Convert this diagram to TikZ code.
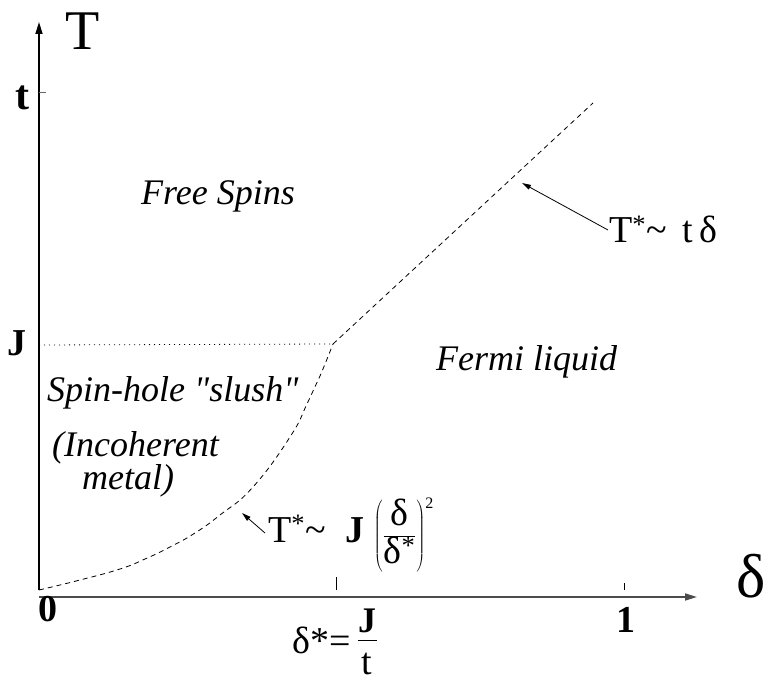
\documentclass[tikz,border=0pt]{standalone}
\usepackage{fontspec}
\setmainfont{Liberation Serif}
\usetikzlibrary{arrows.meta}
\newcommand{\fsz}[1]{\fontsize{#1}{#1}\selectfont}
\begin{document}
\begin{tikzpicture}[x=1pt,y=-1pt,
  axisline/.style={line width=1.6pt,-{Triangle[length=12pt,width=7pt]}},
  tickline/.style={line width=1pt,black!60},
  boundary/.style={line width=0.8pt,dash pattern=on 5pt off 4pt},
  dotline/.style={line width=0.8pt,dash pattern=on 1pt off 4pt},
  pointer/.style={line width=0.8pt,-{Triangle[length=9pt,width=5pt]}},
  region/.style={font=\fsz{36}\itshape,anchor=base west,inner sep=0pt},
  ticklabel/.style={font=\fsz{38}\bfseries,inner sep=0pt},
  formula/.style={font=\fsz{38},anchor=base west,inner sep=0pt}
]
\useasboundingbox (0,0) rectangle (766,679);
% axes
\coordinate (O) at (39,590);
\coordinate (Ytop) at (39,22);
\coordinate (Xl) at (39,597);
\coordinate (Xr) at (697,597);
\draw[axisline,black] (O) -- (Ytop);
\draw[axisline,black!70] (Xl) -- (Xr);
% ticks
\coordinate (tt1) at (39,93); \coordinate (tt2) at (46,93);
\draw[tickline] (tt1) -- (tt2);
\coordinate (dt1) at (336,577); \coordinate (dt2) at (336,590);
\draw[tickline,black] (dt1) -- (dt2);
\coordinate (ot1) at (624,583); \coordinate (ot2) at (624,590);
\draw[tickline,black] (ot1) -- (ot2);
% axis labels
\node[font=\fsz{56},inner sep=0pt] (Tlab) at (83,31) {T};
\node[font=\fsz{62},inner sep=0pt] (dlab) at (751,576) {δ};
\node[ticklabel,font=\fsz{42}\bfseries] (tlab) at (22,98) {t};
\node[ticklabel] (Jlab) at (17,343) {J};
\node[ticklabel] (zlab) at (48,609) {0};
\node[ticklabel] (olab) at (626,620) {1};
% J level
\coordinate (Jl) at (39,345);
\coordinate (Jc) at (333,344);
\draw[dotline] (Jl) -- (Jc);
% boundary
\coordinate (Tend) at (593,103);
\draw[boundary] plot[smooth,tension=0.8] coordinates {(39,590) (80,580) (120,569) (145,559) (170,547) (195,533) (220,515) (253,487) (290,437) (307,404) (320,376) (333,344)};
\draw[boundary] (Jc) -- (Tend);
% regions
\node[region] (free) at (141,205) {Free Spins};
\node[region] (fermi) at (436,370) {Fermi liquid};
\node[region] (slush) at (47,401) {Spin-hole \textquotedbl slush\textquotedbl};
\node[region] (incoh) at (52,456) {(Incoherent};
\node[region] (metal) at (82,489) {metal)};
% formula top right
\node[formula] (ftop) at (609,243) {T\textsuperscript{*}\textasciitilde\hspace{16pt}t\,δ};
\coordinate (atop) at (522,183);
\coordinate (ttop) at (608,230);
\draw[pointer] (ttop) -- (atop);
% formula bottom
\node[formula] (fbot) at (268,542) {T\textsuperscript{*}\textasciitilde\hspace{20pt}\textbf{J}\hspace{9pt}$\left(\displaystyle\frac{\mbox{δ}}{\mbox{δ\textsuperscript{*}}}\right)^{\mbox{\fsz{16}2}}$};
\coordinate (abot) at (242,513);
\coordinate (tbot) at (265,533);
\draw[pointer] (tbot) -- (abot);
% delta star
\node[formula] (dstar) at (292,653) {δ*=\hspace{7pt}\rlap{\raisebox{21pt}{\makebox[19pt]{\fsz{36}\bfseries J}}}\rlap{\raisebox{12.5pt}{\rule{19pt}{1pt}}}\rlap{\raisebox{-21pt}{\makebox[19pt]{t}}}\hspace{19pt}};
\end{tikzpicture}
\end{document}
